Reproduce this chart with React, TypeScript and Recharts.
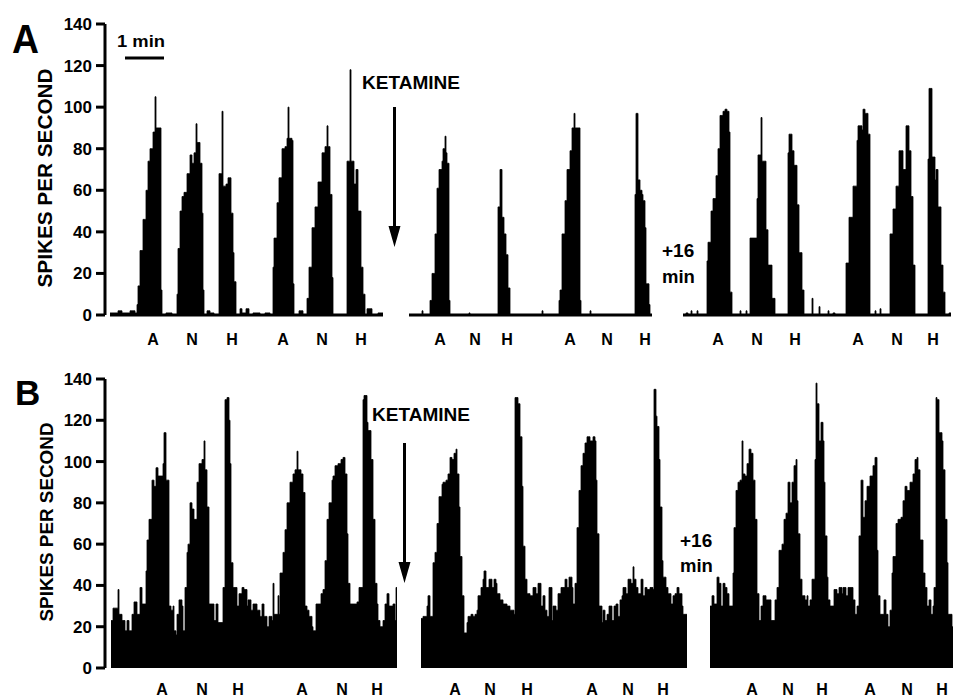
import React from 'react';
import { ComposedChart, Area, XAxis, YAxis, ReferenceLine } from 'recharts';

const FONT = '"Liberation Sans", Arial, Helvetica, sans-serif';

// ---------- DATA ----------
// y axis ticks (spikes per second)
const yTicks = [0, 20, 40, 60, 80, 100, 120, 140];
// stimulus labels under each record segment
const stimLabels = ['A', 'N', 'H', 'A', 'N', 'H'];

// Each record: [bin, spikes/s] step breakpoints (1 bin ~ 1.5 s)
// Panel A
const aSeg1: [number, number][] = [[0,1],[8,2],[12,1],[20,2],[25,1],[27,5],[28,14],[30,31],[33,46],[36,60],[38,74],[40,80],[43,88],[45,105],[46,90],[51,12],[52,0],[56,1],[62,0],[67,10],[68,32],[70,50],[72,57],[74,59],[77,68],[80,77],[82,73],[84,78],[86,92],[87,83],[90,73],[92,49],[93,12],[94,0],[97,2],[100,1],[104,0],[109,68],[112,98],[113,62],[116,63],[118,66],[121,49],[123,30],[124,16],[126,0],[130,3],[132,1],[136,3],[139,0],[143,1],[150,0],[155,1],[160,0],[163,23],[164,37],[167,54],[169,66],[172,80],[175,81],[177,85],[178,100],[179,85],[182,84],[183,15],[184,0],[189,2],[193,0],[197,8],[199,23],[202,42],[205,52],[208,64],[212,78],[215,81],[217,91],[218,81],[220,58],[222,18],[223,0],[237,74],[240,118],[241,74],[244,63],[246,70],[248,50],[251,23],[253,10],[255,0],[257,3],[262,0],[268,1],[273,1]];
const aSeg2: [number, number][] = [[0,0],[13,2],[14,0],[21,7],[23,20],[26,39],[28,61],[30,70],[33,74],[34,80],[36,86],[37,78],[38,73],[40,7],[41,0],[60,1],[61,0],[89,52],[91,70],[93,47],[95,39],[97,29],[99,13],[101,0],[133,2],[134,0],[150,7],[151,12],[153,39],[156,55],[158,70],[161,79],[163,90],[165,97],[166,90],[169,90],[171,7],[172,0],[181,2],[182,0],[226,58],[227,97],[229,65],[231,60],[233,58],[234,55],[236,42],[237,15],[240,5],[241,0],[243,0]];
const aSeg3: [number, number][] = [[0,0],[3,1],[5,0],[8,2],[9,0],[14,2],[15,0],[24,26],[25,35],[28,50],[30,56],[33,67],[35,80],[37,96],[40,98],[42,99],[44,98],[46,88],[47,11],[49,0],[57,2],[58,0],[63,2],[64,0],[67,37],[74,56],[75,77],[78,95],[79,74],[83,41],[85,24],[89,8],[92,0],[105,78],[106,87],[109,79],[111,72],[114,53],[116,30],[119,12],[121,0],[129,8],[130,0],[136,4],[137,0],[145,2],[146,0],[150,1],[152,0],[163,25],[166,47],[170,62],[174,84],[175,91],[179,89],[180,99],[182,97],[185,87],[187,0],[192,2],[193,0],[197,3],[198,0],[207,39],[210,51],[213,62],[216,79],[220,70],[223,91],[226,79],[228,57],[230,24],[232,0],[245,75],[246,109],[249,76],[252,65],[253,70],[255,52],[258,24],[260,11],[262,0],[266,1],[268,0]];
// Panel B
const bSeg1: [number, number][] = [[0,23],[2,29],[6,29],[7,38],[8,26],[11,23],[14,18],[16,23],[18,18],[21,26],[23,32],[26,26],[29,39],[31,31],[35,47],[36,62],[38,72],[41,91],[43,88],[45,97],[47,93],[52,99],[53,114],[55,91],[58,30],[60,28],[62,30],[63,18],[65,16],[66,26],[68,33],[71,30],[72,18],[74,39],[76,56],[77,60],[79,80],[81,77],[83,72],[86,90],[88,99],[91,101],[93,110],[94,96],[96,78],[98,31],[103,23],[105,31],[107,22],[112,39],[114,130],[116,131],[118,120],[119,99],[120,51],[122,39],[126,30],[128,36],[131,39],[133,38],[136,30],[137,33],[140,28],[142,31],[146,28],[149,25],[151,31],[153,25],[156,20],[158,25],[161,23],[162,41],[163,26],[167,35],[168,26],[169,46],[172,56],[174,67],[176,80],[179,90],[182,94],[184,96],[186,105],[187,96],[190,94],[192,85],[194,30],[196,28],[198,25],[201,20],[202,18],[205,31],[210,36],[212,38],[214,52],[216,72],[218,80],[221,91],[222,93],[224,98],[227,99],[230,101],[232,102],[234,94],[236,65],[237,41],[239,31],[246,32],[248,39],[252,130],[253,132],[256,119],[257,115],[260,101],[262,72],[264,41],[266,31],[267,23],[269,20],[272,23],[274,31],[276,36],[278,30],[282,31],[284,23],[285,39],[286,39]];
const bSeg2: [number, number][] = [[0,24],[2,25],[6,30],[7,35],[9,25],[12,51],[14,56],[16,70],[18,83],[21,89],[22,90],[25,91],[27,94],[29,102],[31,101],[33,104],[35,106],[36,94],[38,78],[39,54],[41,35],[43,17],[46,22],[47,25],[50,26],[52,25],[54,26],[56,28],[57,35],[60,39],[62,43],[63,47],[65,39],[68,43],[71,39],[73,43],[75,41],[76,36],[79,33],[82,31],[86,30],[89,28],[93,26],[94,131],[97,128],[99,112],[101,88],[102,59],[104,43],[106,36],[109,35],[112,39],[115,36],[117,41],[120,30],[122,35],[124,28],[126,25],[128,39],[131,23],[132,30],[135,28],[137,36],[140,39],[144,43],[146,39],[148,44],[151,39],[152,31],[154,41],[156,68],[158,86],[160,98],[162,104],[164,109],[166,112],[169,110],[172,112],[174,110],[175,91],[176,65],[178,30],[181,22],[182,28],[184,23],[186,26],[188,30],[191,23],[193,30],[195,31],[197,25],[199,33],[201,35],[202,39],[205,36],[207,43],[210,41],[212,49],[213,43],[215,39],[217,36],[220,43],[222,35],[224,39],[226,38],[229,39],[232,38],[233,135],[235,122],[236,117],[238,101],[239,78],[241,52],[242,44],[245,39],[247,36],[250,31],[252,35],[254,36],[256,39],[258,36],[261,30],[262,26],[266,26]];
const bSeg3: [number, number][] = [[0,30],[2,35],[4,31],[7,44],[9,41],[11,30],[13,41],[15,39],[17,36],[19,30],[23,46],[24,68],[26,86],[28,90],[30,91],[32,110],[33,94],[35,93],[37,99],[39,106],[41,104],[43,91],[45,72],[47,36],[49,23],[51,30],[53,35],[56,33],[61,23],[65,33],[67,39],[69,57],[72,60],[74,72],[76,75],[78,90],[80,80],[82,90],[84,98],[86,101],[87,81],[88,65],[90,43],[92,35],[95,33],[97,35],[98,30],[100,33],[102,43],[105,101],[106,138],[107,128],[109,110],[111,119],[113,110],[114,90],[115,64],[117,44],[118,33],[120,30],[124,38],[127,36],[129,39],[132,36],[133,39],[136,35],[138,39],[143,33],[145,26],[147,30],[149,64],[151,91],[153,73],[155,81],[157,88],[160,93],[163,98],[165,102],[167,57],[168,35],[170,26],[174,33],[176,26],[178,20],[180,28],[182,46],[183,54],[186,70],[188,72],[191,73],[193,81],[195,88],[197,86],[200,90],[203,94],[205,101],[207,102],[208,96],[210,62],[213,46],[215,39],[217,30],[219,33],[221,26],[223,30],[224,39],[226,131],[227,130],[229,114],[232,110],[233,96],[235,72],[237,51],[238,26],[242,20],[243,20]];

// stimulus label positions (bins) per segment
const aStim1 = [43, 82, 122, 173, 212, 251];
const aStim2 = [31, 66, 98, 161, 198, 236];
const aStim3 = [35, 74, 112, 175, 214, 250];
const bStim1 = [51, 91, 127, 191, 231, 266];
const bStim2 = [34, 69, 106, 171, 207, 242];
const bStim3 = [42, 78, 112, 160, 197, 232];

// record lengths (bins)
const aLen = [273, 243, 268];
const bLen = [286, 266, 243];

// ---------- LAYOUT ----------
const AXIS_X = 105;

type SegProps = {
  data: [number, number][];
  len: number;
  stim: number[];
  left: number;
  plotTop: number;
  plotH: number;
  withAxis: boolean;
  baseline: boolean;
  labelDy: number;
};

const StimTick = (props: any) => {
  const { x, y, payload, stim, labelDy } = props;
  const idx = stim.indexOf(payload.value);
  return (
    <text x={x} y={y + labelDy} textAnchor="middle" fontFamily={FONT} fontWeight="bold" fontSize={16} fill="#000">
      {stimLabels[idx] ?? ''}
    </text>
  );
};

function Segment({ data, len, stim, left, plotTop, plotH, withAxis, baseline, labelDy }: SegProps) {
  const rows = data.map(([t, v]) => ({ t, v }));
  const x0 = withAxis ? AXIS_X - left : 0;
  const yW = withAxis ? AXIS_X : 0;
  const chartLeft = withAxis ? 0 : left;
  const mTop = 12;
  const axisH = 32;
  const width = yW + (len - x0) + 1;
  const height = mTop + plotH + axisH;
  return (
    <div style={{ position: 'absolute', left: chartLeft, top: plotTop - mTop }}>
      <ComposedChart
        width={width}
        height={height}
        data={rows}
        margin={{ top: mTop, right: 1, bottom: 0, left: 0 }}
      >
        <XAxis
          type="number"
          dataKey="t"
          domain={[x0, len]}
          allowDataOverflow
          ticks={stim}
          interval={0}
          axisLine={false}
          tickLine={false}
          tickSize={0}
          tickMargin={0}
          height={axisH}
          tick={<StimTick stim={stim} labelDy={labelDy} />}
        />
        {withAxis ? (
          <YAxis
            type="number"
            domain={[0, 140]}
            allowDataOverflow
            ticks={yTicks}
            interval={0}
            width={AXIS_X}
            axisLine={{ stroke: '#000', strokeWidth: 3 }}
            tickLine={{ stroke: '#000', strokeWidth: 3 }}
            tickSize={9}
            tickMargin={4}
            tick={{ fontSize: 17, fontWeight: 'bold', fill: '#000', fontFamily: FONT }}
          />
        ) : (
          <YAxis hide type="number" domain={[0, 140]} allowDataOverflow />
        )}
        <Area
          type="stepAfter"
          dataKey="v"
          fill="#000"
          fillOpacity={1}
          stroke="#000"
          strokeWidth={0.8}
          dot={false}
          activeDot={false}
          isAnimationActive={false}
        />
        {baseline && (
          <ReferenceLine
            segment={[{ x: 0, y: 0 }, { x: len, y: 0 }]}
            stroke="#000"
            strokeWidth={3}
          />
        )}
      </ComposedChart>
    </div>
  );
}

const txt = { fontFamily: FONT, fontWeight: 'bold' as const, fill: '#000' };

export default function App() {
  const aTop = 24, aH = 291;
  const bTop = 379, bH = 289;
  return (
    <div style={{ position: 'absolute', left: 0, top: 0, width: 954, height: 700, background: '#fff', overflow: 'hidden' }}>
      <Segment data={aSeg1} len={aLen[0]} stim={aStim1} left={110} plotTop={aTop} plotH={aH} withAxis baseline labelDy={30} />
      <Segment data={aSeg2} len={aLen[1]} stim={aStim2} left={409} plotTop={aTop} plotH={aH} withAxis={false} baseline labelDy={30} />
      <Segment data={aSeg3} len={aLen[2]} stim={aStim3} left={683} plotTop={aTop} plotH={aH} withAxis={false} baseline labelDy={30} />
      <Segment data={bSeg1} len={bLen[0]} stim={bStim1} left={111} plotTop={bTop} plotH={bH} withAxis baseline={false} labelDy={27} />
      <Segment data={bSeg2} len={bLen[1]} stim={bStim2} left={421} plotTop={bTop} plotH={bH} withAxis={false} baseline={false} labelDy={27} />
      <Segment data={bSeg3} len={bLen[2]} stim={bStim3} left={710} plotTop={bTop} plotH={bH} withAxis={false} baseline={false} labelDy={27} />
      <svg width={954} height={700} style={{ position: 'absolute', left: 0, top: 0, pointerEvents: 'none' }}>
        {/* panel letters */}
        <text x={12} y={53} fontSize={40} textLength={27} lengthAdjust="spacingAndGlyphs" {...txt}>A</text>
        <text x={15} y={405} fontSize={35} {...txt}>B</text>
        {/* axis titles */}
        <text transform="translate(51.5,178) rotate(-90)" textAnchor="middle" fontSize={20} textLength={219} lengthAdjust="spacingAndGlyphs" {...txt}>SPIKES PER SECOND</text>
        <text transform="translate(52.5,522) rotate(-90)" textAnchor="middle" fontSize={19} textLength={199} lengthAdjust="spacingAndGlyphs" {...txt}>SPIKES PER SECOND</text>
        {/* scale bar */}
        <text x={117} y={47} fontSize={17} textLength={48} lengthAdjust="spacingAndGlyphs" {...txt}>1 min</text>
        <line x1={125} x2={164} y1={58} y2={58} stroke="#000" strokeWidth={3} />
        {/* ketamine A */}
        <text x={362} y={89} fontSize={19} textLength={98} lengthAdjust="spacingAndGlyphs" {...txt}>KETAMINE</text>
        <line x1={394.5} x2={394.5} y1={107} y2={230} stroke="#000" strokeWidth={3} />
        <polygon points="388.5,226 400.5,226 394.5,247" fill="#000" />
        <text x={662} y={257} fontSize={19} {...txt}>+16</text>
        <text x={662} y={283} fontSize={18.5} {...txt}>min</text>
        {/* ketamine B */}
        <text x={372} y={421} fontSize={19} textLength={98} lengthAdjust="spacingAndGlyphs" {...txt}>KETAMINE</text>
        <line x1={404.5} x2={404.5} y1={443} y2={566} stroke="#000" strokeWidth={3} />
        <polygon points="398.5,562 410.5,562 404.5,583" fill="#000" />
        <text x={680} y={547} fontSize={19} {...txt}>+16</text>
        <text x={680} y={572} fontSize={18.5} {...txt}>min</text>
      </svg>
    </div>
  );
}
